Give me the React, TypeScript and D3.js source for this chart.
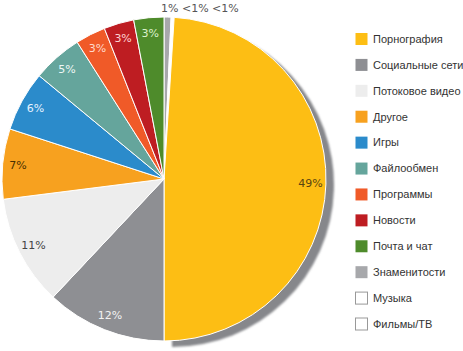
import React from 'react';
import * as d3 from 'd3';

// slices in drawing order, clockwise from 12 o'clock
const categories = [
  'Знаменитости', 'Музыка', 'Фильмы/ТВ', 'Порнография', 'Социальные сети', 'Потоковое видео',
  'Другое', 'Игры', 'Файлообмен', 'Программы', 'Новости', 'Почта и чат',
];
const values = [0.7, 0.15, 0.15, 49, 12, 11, 7, 6, 5, 3, 3, 3];
const labels = ['1%', '<1%', '<1%', '49%', '12%', '11%', '7%', '6%', '5%', '3%', '3%', '3%'];
const colors = [
  '#a7a8ab', '#ffffff', '#ffffff', '#fdbe14', '#8e8f93', '#ededed',
  '#f7a11f', '#2b8bcb', '#65a59c', '#f05a28', '#be1d22', '#4e8b2b',
];
const labelColors = [
  '#555', '#555', '#555', '#5a4510', '#f2f2f2', '#444',
  '#4a3000', '#e6f2ff', '#eef7f5', '#ffd9cc', '#ffd2d2', '#dcf2cc',
];
// legend order
const legendItems = [
  'Порнография', 'Социальные сети', 'Потоковое видео', 'Другое', 'Игры', 'Файлообмен',
  'Программы', 'Новости', 'Почта и чат', 'Знаменитости', 'Музыка', 'Фильмы/ТВ',
];

const width = 463;
const height = 351;
const cx = 164;
const cy = 179;
const radius = 162;

export default function App() {
  const pie = d3.pie<number>().sort(null).value((d) => d);
  const arcs = pie(values);
  const arc = d3.arc<d3.PieArcDatum<number>>().innerRadius(0).outerRadius(radius);
  const labelArc = d3.arc<d3.PieArcDatum<number>>().innerRadius(radius * 0.905).outerRadius(radius * 0.905);
  const colorOf = d3.scaleOrdinal<string, string>().domain(categories).range(colors);

  const legendY = d3.scalePoint<string>().domain(legendItems).range([39, 324]);

  const big = arcs[3];

  return (
    <svg width={width} height={height} style={{ position: 'absolute', left: 0, top: 0 }}>
      <defs>
        <filter id="blur" x="-10%" y="-10%" width="120%" height="120%">
          <feGaussianBlur stdDeviation="1" />
        </filter>
      </defs>
      <rect width={width} height={height} fill="#fff" />
      <g transform={`translate(${cx},${cy})`}>
        {/* shadow behind the largest slice */}
        <path d={arc(big) || ''} transform="translate(8,6)" fill="#86878b" filter="url(#blur)" />
        {arcs.map((a, i) => (
          <path key={i} d={arc(a) || ''} fill={colorOf(categories[i])} stroke="#fff" strokeWidth={1} />
        ))}
        {arcs.map((a, i) => {
          if (i < 3) return null;
          const [x, y] = labelArc.centroid(a);
          return (
            <text key={i} x={x} y={y} dy="0.35em" textAnchor="middle" fontFamily="DejaVu Sans" fontSize={11} fill={labelColors[i]}>
              {labels[i]}
            </text>
          );
        })}
      </g>
      <text x={161} y={12} fontFamily="DejaVu Sans" fontSize={11} fill="#555">
        {labels.slice(0, 3).join(' ')}
      </text>
      {legendItems.map((name) => {
        const y = legendY(name) as number;
        const c = colorOf(name);
        const open = c === '#ffffff';
        return (
          <g key={name} transform={`translate(355,${y})`}>
            <rect x={0.5} y={-6} width={12} height={12} fill={c} stroke={open ? '#999' : 'none'} strokeWidth={1} />
            <text x={18} y={0} dy="0.35em" fontFamily="Liberation Sans, Arial" fontSize={11} fill="#333">
              {name}
            </text>
          </g>
        );
      })}
    </svg>
  );
}
